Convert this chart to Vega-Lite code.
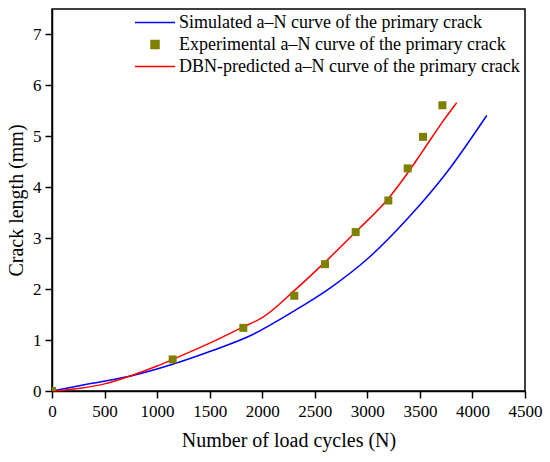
{
  "$schema": "https://vega.github.io/schema/vega-lite/v6.json",
  "autosize": "none",
  "width": 473,
  "height": 382,
  "padding": {"left": 52, "top": 9, "right": 25, "bottom": 71},
  "background": "white",
  "config": {
    "view": {"stroke": "black", "strokeWidth": 1.5},
    "font": "Liberation Serif",
    "axis": {
      "domainColor": "black",
      "domainWidth": 1.5,
      "tickColor": "black",
      "tickWidth": 1.5,
      "tickSize": 7,
      "grid": false,
      "labelFont": "Liberation Serif",
      "labelFontSize": 17,
      "labelColor": "black",
      "titleFont": "Liberation Serif",
      "titleFontSize": 20,
      "titleFontWeight": "normal",
      "titleColor": "black"
    }
  },
  "data": {
    "values": [
      {"cycles": 0, "length": 0.0, "series": "Simulated a–N curve of the primary crack"},
      {"cycles": 380, "length": 0.15, "series": "Simulated a–N curve of the primary crack"},
      {"cycles": 760, "length": 0.3, "series": "Simulated a–N curve of the primary crack"},
      {"cycles": 1140, "length": 0.52, "series": "Simulated a–N curve of the primary crack"},
      {"cycles": 1520, "length": 0.79, "series": "Simulated a–N curve of the primary crack"},
      {"cycles": 1890, "length": 1.09, "series": "Simulated a–N curve of the primary crack"},
      {"cycles": 2270, "length": 1.53, "series": "Simulated a–N curve of the primary crack"},
      {"cycles": 2645, "length": 2.02, "series": "Simulated a–N curve of the primary crack"},
      {"cycles": 3010, "length": 2.61, "series": "Simulated a–N curve of the primary crack"},
      {"cycles": 3390, "length": 3.4, "series": "Simulated a–N curve of the primary crack"},
      {"cycles": 3755, "length": 4.29, "series": "Simulated a–N curve of the primary crack"},
      {"cycles": 4136, "length": 5.41, "series": "Simulated a–N curve of the primary crack"},

      {"cycles": 0, "length": 0.0, "series": "Experimental a–N curve of the primary crack"},
      {"cycles": 1148, "length": 0.62, "series": "Experimental a–N curve of the primary crack"},
      {"cycles": 1820, "length": 1.24, "series": "Experimental a–N curve of the primary crack"},
      {"cycles": 2305, "length": 1.87, "series": "Experimental a–N curve of the primary crack"},
      {"cycles": 2597, "length": 2.49, "series": "Experimental a–N curve of the primary crack"},
      {"cycles": 2889, "length": 3.12, "series": "Experimental a–N curve of the primary crack"},
      {"cycles": 3200, "length": 3.74, "series": "Experimental a–N curve of the primary crack"},
      {"cycles": 3384, "length": 4.37, "series": "Experimental a–N curve of the primary crack"},
      {"cycles": 3530, "length": 4.99, "series": "Experimental a–N curve of the primary crack"},
      {"cycles": 3714, "length": 5.61, "series": "Experimental a–N curve of the primary crack"},

      {"cycles": 0, "length": 0.0, "series": "DBN-predicted a–N curve of the primary crack"},
      {"cycles": 250, "length": 0.05, "series": "DBN-predicted a–N curve of the primary crack"},
      {"cycles": 500, "length": 0.14, "series": "DBN-predicted a–N curve of the primary crack"},
      {"cycles": 750, "length": 0.3, "series": "DBN-predicted a–N curve of the primary crack"},
      {"cycles": 1000, "length": 0.49, "series": "DBN-predicted a–N curve of the primary crack"},
      {"cycles": 1148, "length": 0.62, "series": "DBN-predicted a–N curve of the primary crack"},
      {"cycles": 1500, "length": 0.94, "series": "DBN-predicted a–N curve of the primary crack"},
      {"cycles": 1820, "length": 1.26, "series": "DBN-predicted a–N curve of the primary crack"},
      {"cycles": 2000, "length": 1.44, "series": "DBN-predicted a–N curve of the primary crack"},
      {"cycles": 2305, "length": 1.97, "series": "DBN-predicted a–N curve of the primary crack"},
      {"cycles": 2597, "length": 2.53, "series": "DBN-predicted a–N curve of the primary crack"},
      {"cycles": 2889, "length": 3.12, "series": "DBN-predicted a–N curve of the primary crack"},
      {"cycles": 3200, "length": 3.78, "series": "DBN-predicted a–N curve of the primary crack"},
      {"cycles": 3384, "length": 4.28, "series": "DBN-predicted a–N curve of the primary crack"},
      {"cycles": 3530, "length": 4.72, "series": "DBN-predicted a–N curve of the primary crack"},
      {"cycles": 3714, "length": 5.28, "series": "DBN-predicted a–N curve of the primary crack"},
      {"cycles": 3850, "length": 5.66, "series": "DBN-predicted a–N curve of the primary crack"}
    ]
  },
  "encoding": {
    "x": {
      "field": "cycles",
      "type": "quantitative",
      "title": "Number of load cycles (N)",
      "scale": {"domain": [0, 4500], "nice": false, "zero": false},
      "axis": {"values": [0, 500, 1000, 1500, 2000, 2500, 3000, 3500, 4000, 4500], "format": "d", "labelPadding": 5, "titlePadding": 11, "labelFlush": false}
    },
    "y": {
      "field": "length",
      "type": "quantitative",
      "title": "Crack length (mm)",
      "scale": {"domain": [0, 7.5], "nice": false, "zero": false},
      "axis": {"values": [0, 1, 2, 3, 4, 5, 6, 7], "labelPadding": 4, "titlePadding": 6, "labelFlush": false}
    },
    "color": {
      "field": "series",
      "type": "nominal",
      "scale": {
        "domain": [
          "Simulated a–N curve of the primary crack",
          "Experimental a–N curve of the primary crack",
          "DBN-predicted a–N curve of the primary crack"
        ],
        "range": ["#0000ff", "#7f7f00", "#ff0000"]
      },
      "legend": {
        "title": null,
        "orient": "none",
        "legendX": 82,
        "legendY": 4,
        "padding": 0,
        "symbolType": "stroke",
        "symbolSize": 64,
        "symbolStrokeWidth": 1.5,
        "labelOffset": 3,
        "labelFont": "Liberation Serif",
        "labelFontSize": 18,
        "labelColor": "black",
        "labelLimit": 500,
        "clipHeight": 19,
        "rowPadding": 3,
        "encode": {
          "symbols": {
            "update": {
              "shape": {"signal": "datum.value === 'Experimental a–N curve of the primary crack' ? 'square' : 'stroke'"},
              "size": {"signal": "datum.value === 'Experimental a–N curve of the primary crack' ? 64 : 1600"},
              "fill": {"signal": "datum.value === 'Experimental a–N curve of the primary crack' ? '#7f7f00' : null"}
            }
          }
        }
      }
    }
  },
  "layer": [
    {
      "transform": [{"filter": "datum.series !== 'Experimental a–N curve of the primary crack'"}],
      "mark": {"type": "line", "strokeWidth": 1.5, "interpolate": "monotone"}
    },
    {
      "transform": [{"filter": "datum.series === 'Experimental a–N curve of the primary crack'"}],
      "mark": {"type": "square", "size": 64, "filled": true, "opacity": 1, "clip": true}
    }
  ]
}
